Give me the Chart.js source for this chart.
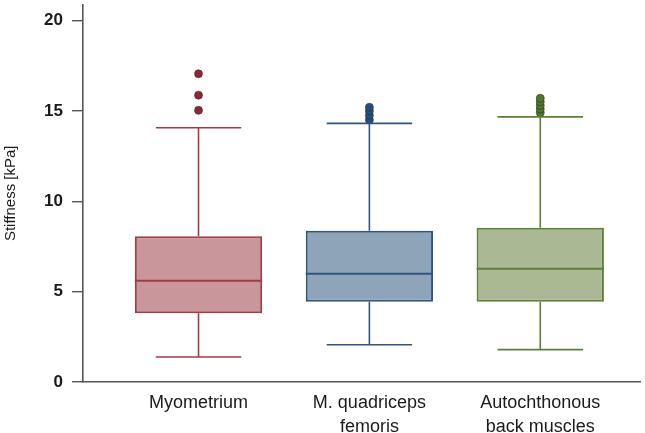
<!DOCTYPE html>
<html>
<head>
<meta charset="utf-8">
<script src="https://cdn.jsdelivr.net/npm/chart.js@4.4.0/dist/chart.umd.min.js"></script>
<style>
  html, body { margin: 0; padding: 0; background: #fff; }
  #wrap { width: 645px; height: 433px; }
</style>
</head>
<body>
<div id="wrap"><canvas id="boxChart"></canvas></div>
<script>
// groups and box plot values (kPa)
var groups = [['Myometrium'], ['M. quadriceps', 'femoris'], ['Autochthonous', 'back muscles']];
var positions = [1, 2, 3];
var whiskerLow = [1.38, 2.06, 1.79];
var q1 = [3.80, 4.44, 4.44];
var median = [5.60, 5.99, 6.27];
var q3 = [8.07, 8.37, 8.53];
var whiskerHigh = [14.07, 14.31, 14.67];
var outliers = [
    [15.03, 15.87, 17.05],
    [14.5, 14.75, 15.0, 15.2],
    [14.9, 15.1, 15.3, 15.5, 15.7]
];
var yTicks = [0, 5, 10, 15, 20];

var lineColors = ['#a03c48', '#2f5682', '#5b8034'];
var fillColors = ['#c9979b', '#8ea4b9', '#aab994'];
var dotColors = ['#8c2733', '#1f4f80', '#4b7a29'];

var boxData = positions.map(function (p, i) {
    return { x: p, y: [q1[i], q3[i]] };
});

var datasets = [{
    type: 'bar',
    data: boxData,
    backgroundColor: fillColors,
    borderColor: lineColors,
    borderWidth: 2,
    borderSkipped: false,
    categoryPercentage: 1,
    barPercentage: 0.745,
    order: 2
}];

outliers.forEach(function (vals, i) {
    datasets.push({
        type: 'scatter',
        data: vals.map(function (v) { return { x: positions[i], y: v }; }),
        pointRadius: 4,
        pointBackgroundColor: dotColors[i],
        pointBorderColor: '#3a2a2a',
        pointBorderWidth: 0.6,
        order: 1
    });
});

// whiskers, caps and medians drawn through the scales
var boxLines = {
    id: 'boxLines',
    afterDatasetsDraw: function (chart) {
        var ctx = chart.ctx;
        var xs = chart.scales.x, ys = chart.scales.y;
        ctx.save();
        positions.forEach(function (p, i) {
            var cx = xs.getPixelForValue(p);
            var capL = xs.getPixelForValue(p - 0.25), capR = xs.getPixelForValue(p + 0.25);
            var boxL = xs.getPixelForValue(p - 0.3725), boxR = xs.getPixelForValue(p + 0.3725);
            ctx.strokeStyle = lineColors[i];
            ctx.lineWidth = 1.6;
            ctx.beginPath();
            ctx.moveTo(cx, ys.getPixelForValue(q3[i]));
            ctx.lineTo(cx, ys.getPixelForValue(whiskerHigh[i]));
            ctx.moveTo(capL, ys.getPixelForValue(whiskerHigh[i]));
            ctx.lineTo(capR, ys.getPixelForValue(whiskerHigh[i]));
            ctx.moveTo(cx, ys.getPixelForValue(q1[i]));
            ctx.lineTo(cx, ys.getPixelForValue(whiskerLow[i]));
            ctx.moveTo(capL, ys.getPixelForValue(whiskerLow[i]));
            ctx.lineTo(capR, ys.getPixelForValue(whiskerLow[i]));
            ctx.stroke();
            ctx.lineWidth = 2;
            ctx.beginPath();
            ctx.moveTo(boxL, ys.getPixelForValue(median[i]));
            ctx.lineTo(boxR, ys.getPixelForValue(median[i]));
            ctx.stroke();
        });
        ctx.restore();
    }
};

var ctxB = document.getElementById('boxChart').getContext('2d');
var boxChart = new Chart(ctxB, {
    data: { datasets: datasets },
    plugins: [boxLines],
    options: {
        responsive: true,
        maintainAspectRatio: false,
        animation: false,
        layout: { padding: { top: 0, right: 2, bottom: 0, left: 0 } },
        plugins: { legend: { display: false }, tooltip: { enabled: false } },
        scales: {
            x: {
                type: 'linear',
                offset: false,
                min: 0.324,
                max: 3.586,
                grid: { display: false, offset: false },
                border: { display: true, color: '#555', width: 1.6 },
                afterBuildTicks: function (scale) {
                    scale.ticks = positions.map(function (p) { return { value: p }; });
                },
                afterFit: function (scale) { scale.height = 51; },
                ticks: {
                    padding: 1,
                    color: '#1a1a1a',
                    font: { family: 'Arial', size: 18, lineHeight: '24px' },
                    maxRotation: 0,
                    autoSkip: false,
                    callback: function (v) {
                        var i = positions.indexOf(v);
                        return i >= 0 ? groups[i] : '';
                    }
                }
            },
            y: {
                min: 0,
                max: 20.88,
                grid: { drawOnChartArea: false, drawTicks: true, tickLength: 11, color: '#555', lineWidth: 1.4 },
                border: { display: true, color: '#555', width: 1.6 },
                afterBuildTicks: function (scale) {
                    scale.ticks = yTicks.map(function (v) { return { value: v }; });
                },
                afterFit: function (scale) {
                    scale.width = 83;
                    scale.paddingTop = 0;
                    scale.paddingBottom = 0;
                },
                ticks: {
                    padding: 9,
                    color: '#1a1a1a',
                    font: { family: 'Arial', size: 17, weight: 'bold' }
                },
                title: {
                    display: true,
                    text: 'Stiffness [kPa]',
                    color: '#1a1a1a',
                    padding: { top: 2, bottom: 0 },
                    font: { family: 'Arial', size: 15 }
                }
            }
        }
    }
});
</script>
</body>
</html>
